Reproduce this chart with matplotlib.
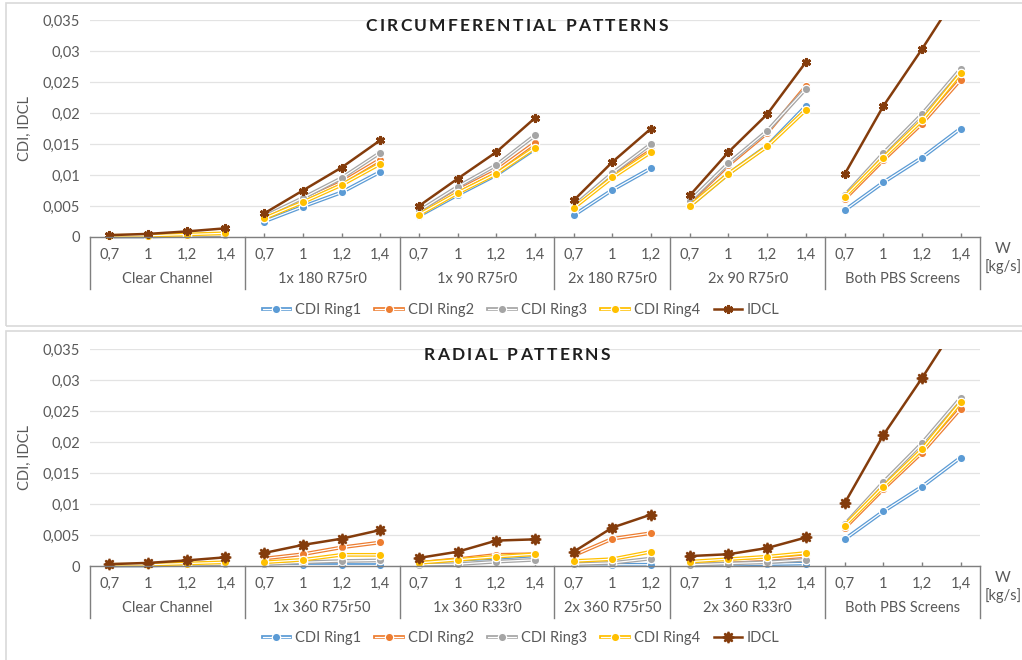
import matplotlib
matplotlib.use("Agg")
import matplotlib.pyplot as plt
from matplotlib.lines import Line2D
from matplotlib.patches import Rectangle
from matplotlib.transforms import Bbox, TransformedBbox

plt.rcParams['font.family'] = ['Lato', 'DejaVu Sans']

# ---------------------------------------------------------------- data
w_full = [0.7, 1.0, 1.2, 1.4]
w_short = [0.7, 1.0, 1.2]

circ_groups = ["Clear Channel", "1x 180 R75r0", "1x 90 R75r0",
               "2x 180 R75r0", "2x 90 R75r0", "Both PBS Screens"]
circ_w = [w_full, w_full, w_full, w_short, w_full, w_full]
circ_ring1 = [[0.0001, 0.0001, 0.0002, 0.0003], [0.0025, 0.0049, 0.0072, 0.0105],
              [0.0034, 0.0068, 0.0100, 0.0142], [0.0035, 0.0076, 0.0111],
              [0.0050, 0.0102, 0.0147, 0.0211], [0.0043, 0.0088, 0.0128, 0.0175]]
circ_ring2 = [[0.0001, 0.0002, 0.0003, 0.0005], [0.0030, 0.0060, 0.0088, 0.0125],
              [0.0038, 0.0075, 0.0107, 0.0152], [0.0048, 0.0098, 0.0140],
              [0.0056, 0.0116, 0.0168, 0.0243], [0.0061, 0.0124, 0.0183, 0.0254]]
circ_ring3 = [[0.0001, 0.0001, 0.0002, 0.0003], [0.0033, 0.0063, 0.0095, 0.0136],
              [0.0042, 0.0081, 0.0116, 0.0164], [0.0050, 0.0103, 0.0150],
              [0.0058, 0.0119, 0.0171, 0.0239], [0.0067, 0.0135, 0.0198, 0.0271]]
circ_ring4 = [[0.0002, 0.0002, 0.0004, 0.0006], [0.0030, 0.0056, 0.0084, 0.0118],
              [0.0036, 0.0071, 0.0102, 0.0144], [0.0047, 0.0096, 0.0137],
              [0.0050, 0.0102, 0.0146, 0.0205], [0.0065, 0.0128, 0.0188, 0.0264]]
circ_idcl = [[0.0003, 0.0005, 0.0009, 0.0014], [0.0038, 0.0075, 0.0112, 0.0156],
             [0.0050, 0.0094, 0.0137, 0.0192], [0.0059, 0.0121, 0.0175],
             [0.0067, 0.0137, 0.0198, 0.0282], [0.0101, 0.0211, 0.0303, 0.0400]]

rad_groups = ["Clear Channel", "1x 360 R75r50", "1x 360 R33r0",
              "2x 360 R75r50", "2x 360 R33r0", "Both PBS Screens"]
rad_w = [w_full, w_full, w_full, w_short, w_full, w_full]
rad_ring1 = [[0.0001, 0.0001, 0.0002, 0.0003], [0.0001, 0.0001, 0.0001, 0.0001],
             [0.0003, 0.0006, 0.0009, 0.0013], [0.0001, 0.0002, 0.0002],
             [0.0001, 0.0002, 0.0003, 0.0004], [0.0043, 0.0088, 0.0128, 0.0175]]
rad_ring2 = [[0.0001, 0.0002, 0.0003, 0.0005], [0.0012, 0.0019, 0.0030, 0.0038],
             [0.0005, 0.0011, 0.0018, 0.0019], [0.0017, 0.0044, 0.0053],
             [0.0005, 0.0008, 0.0011, 0.0016], [0.0061, 0.0124, 0.0183, 0.0254]]
rad_ring3 = [[0.0001, 0.0001, 0.0002, 0.0003], [0.0003, 0.0006, 0.0008, 0.0009],
             [0.0002, 0.0003, 0.0007, 0.0010], [0.0003, 0.0005, 0.0012],
             [0.0002, 0.0004, 0.0006, 0.0010], [0.0067, 0.0135, 0.0198, 0.0271]]
rad_ring4 = [[0.0002, 0.0002, 0.0004, 0.0006], [0.0006, 0.0010, 0.0018, 0.0018],
             [0.0005, 0.0010, 0.0015, 0.0019], [0.0008, 0.0011, 0.0023],
             [0.0007, 0.0011, 0.0015, 0.0021], [0.0065, 0.0128, 0.0188, 0.0264]]
rad_idcl = [[0.0003, 0.0005, 0.0009, 0.0014], [0.0021, 0.0034, 0.0044, 0.0058],
            [0.0013, 0.0023, 0.0041, 0.0043], [0.0023, 0.0062, 0.0083],
            [0.0016, 0.0019, 0.0029, 0.0046], [0.0101, 0.0211, 0.0303, 0.0400]]

series_names = ["CDI Ring1", "CDI Ring2", "CDI Ring3", "CDI Ring4", "IDCL"]
y_ticks = [0, 0.005, 0.01, 0.015, 0.02, 0.025, 0.03, 0.035]

# ---------------------------------------------------------------- style
RING_COLORS = ["#5B9BD5", "#ED7D31", "#A5A5A5", "#FFC000"]
IDCL_COLOR = "#843C0C"
TEXT = "#595959"
AXIS = "#7F7F7F"
GRID = "#E3E3E3"
FS = 10.5

FIG_W, FIG_H = 1022, 660
fig = plt.figure(figsize=(FIG_W / 100, FIG_H / 100), dpi=100)
fig.patch.set_facecolor("white")


def fx(px):
    return px / FIG_W


def fy(py):
    return 1 - py / FIG_H


def comma(v):
    s = f"{v:g}"
    return s.replace(".", ",")


def spaced_text(text, xc, yc, spacing, **kw):
    """Draw text with extra letter spacing, centred at pixel (xc, yc)."""
    renderer = fig.canvas.get_renderer()
    widths = []
    for ch in text:
        if ch == " ":
            widths.append(kw.get("fontsize", 12) * 1.389 * 0.28)
            continue
        t = fig.text(0, 0, ch, **kw)
        widths.append(t.get_window_extent(renderer).width)
        t.remove()
    total = sum(widths) + spacing * (len(text) - 1)
    x = xc - total / 2
    for ch, w in zip(text, widths):
        if ch != " ":
            fig.text(fx(x), fy(yc), ch, ha="left", va="center", **kw)
        x += w + spacing


def draw_panel(top_px, bottom_px, title, title_y, groups, wvals, rings, idcl,
               idcl_marker, idcl_ms, idcl_mew, legend_y):
    left_px, right_px = 90, 980
    ax = fig.add_axes([fx(left_px), fy(bottom_px),
                       fx(right_px) - fx(left_px), fy(top_px) - fy(bottom_px)])
    ax.set_facecolor("none")
    n_total = sum(len(w) for w in wvals)
    ax.set_xlim(-0.5, n_total - 0.5)
    ax.set_ylim(0, 0.035)

    clip = TransformedBbox(Bbox.from_extents(0, -0.1, 1, 1), ax.transAxes)

    starts = []
    pos = 0
    for w in wvals:
        starts.append(pos)
        pos += len(w)

    # ring series: double line (colour with white core) and round markers
    for ring, col in zip(rings, RING_COLORS):
        for g, vals in enumerate(ring):
            xs = [starts[g] + i for i in range(len(vals))]
            arts = ax.plot(xs, vals, color=col, lw=2.7, solid_capstyle="butt")
            arts += ax.plot(xs, vals, color="white", lw=0.9, solid_capstyle="butt")
            arts += ax.plot(xs, vals, ls="none", marker="o", ms=6, mfc=col,
                            mec="white", mew=0.9)
            for a in arts:
                a.set_clip_box(clip)

    for g, vals in enumerate(idcl):
        xs = [starts[g] + i for i in range(len(vals))]
        arts = ax.plot(xs, vals, color=IDCL_COLOR, lw=1.8, marker=idcl_marker,
                       ms=idcl_ms, mfc=IDCL_COLOR, mec=IDCL_COLOR, mew=idcl_mew)
        for a in arts:
            a.set_clip_box(clip)

    # axes cosmetics
    for s in ("top", "right", "left"):
        ax.spines[s].set_visible(False)
    ax.spines["bottom"].set_color(AXIS)
    ax.spines["bottom"].set_linewidth(1.0)
    ax.set_yticks(y_ticks)
    ax.set_yticklabels([comma(v) for v in y_ticks])
    ax.tick_params(axis="y", length=0, pad=7, labelsize=FS, labelcolor=TEXT)
    ax.yaxis.grid(True, color=GRID, lw=0.9)
    ax.set_axisbelow(True)

    tick_pos = []
    tick_lab = []
    for g, w in enumerate(wvals):
        for i, v in enumerate(w):
            tick_pos.append(starts[g] + i)
            tick_lab.append(comma(v))
    ax.set_xticks(tick_pos)
    ax.set_xticklabels(tick_lab)
    ax.tick_params(axis="x", direction="in", length=3, color=AXIS, width=1.0,
                   pad=8, labelsize=FS, labelcolor=TEXT)

    h = bottom_px - top_px
    xt = ax.get_xaxis_transform()
    bounds = starts + [n_total]
    for b in bounds:
        ax.add_line(Line2D([b - 0.5, b - 0.5], [0, -52 / h], transform=xt,
                           color=AXIS, lw=1.0, clip_on=False))
    for g, name in enumerate(groups):
        xc = starts[g] + (len(wvals[g]) - 1) / 2
        ax.text(xc, -42 / h, name, transform=xt, ha="center", va="center",
                fontsize=FS, color=TEXT)

    ax.text(1.026, -12 / h, "W", transform=ax.transAxes, ha="center",
            va="center", fontsize=FS + 0.5, color=TEXT)
    ax.text(1.026, -30 / h, "[kg/s]", transform=ax.transAxes, ha="center",
            va="center", fontsize=FS, color=TEXT)

    fig.text(fx(25), fy((top_px + bottom_px) / 2 - 0), "CDI, IDCL", rotation=90,
             ha="center", va="center", fontsize=FS, color=TEXT)

    spaced_text(title, 517, title_y, 2.2, fontsize=12.5, fontweight="bold",
                color="#1F1F1F")

    # legend
    handles = []
    for col in RING_COLORS:
        handles.append((Line2D([], [], color=col, lw=2.7),
                        Line2D([], [], color="white", lw=0.9),
                        Line2D([], [], ls="none", marker="o", ms=6, mfc=col,
                               mec="white", mew=0.9)))
    handles.append(Line2D([], [], color=IDCL_COLOR, lw=1.8, marker=idcl_marker,
                          ms=idcl_ms, mfc=IDCL_COLOR, mec=IDCL_COLOR,
                          mew=idcl_mew))
    leg = fig.legend(handles, series_names, loc="center",
                     bbox_to_anchor=(fx(521), fy(legend_y)), ncol=5,
                     frameon=False, fontsize=FS, handlelength=1.9,
                     handletextpad=0.35, columnspacing=0.95)
    for t in leg.get_texts():
        t.set_color(TEXT)
    return ax


draw_panel(20, 237, "CIRCUMFERENTIAL PATTERNS", 26, circ_groups, circ_w,
           [circ_ring1, circ_ring2, circ_ring3, circ_ring4], circ_idcl,
           (6, 2, 0), 6.5, 2.0, 310)
draw_panel(349, 566, "RADIAL PATTERNS", 355, rad_groups, rad_w,
           [rad_ring1, rad_ring2, rad_ring3, rad_ring4], rad_idcl,
           (8, 1, 0), 8, 1.4, 638)

# chart frames
for y0, y1 in ((3, 326), (331, 670)):
    fig.add_artist(Rectangle((fx(6), fy(y1)), fx(1040) - fx(6), fy(y0) - fy(y1),
                             transform=fig.transFigure, fill=False,
                             ec="#D9D9D9", lw=1.2))

fig.savefig("out.png", dpi=100)
